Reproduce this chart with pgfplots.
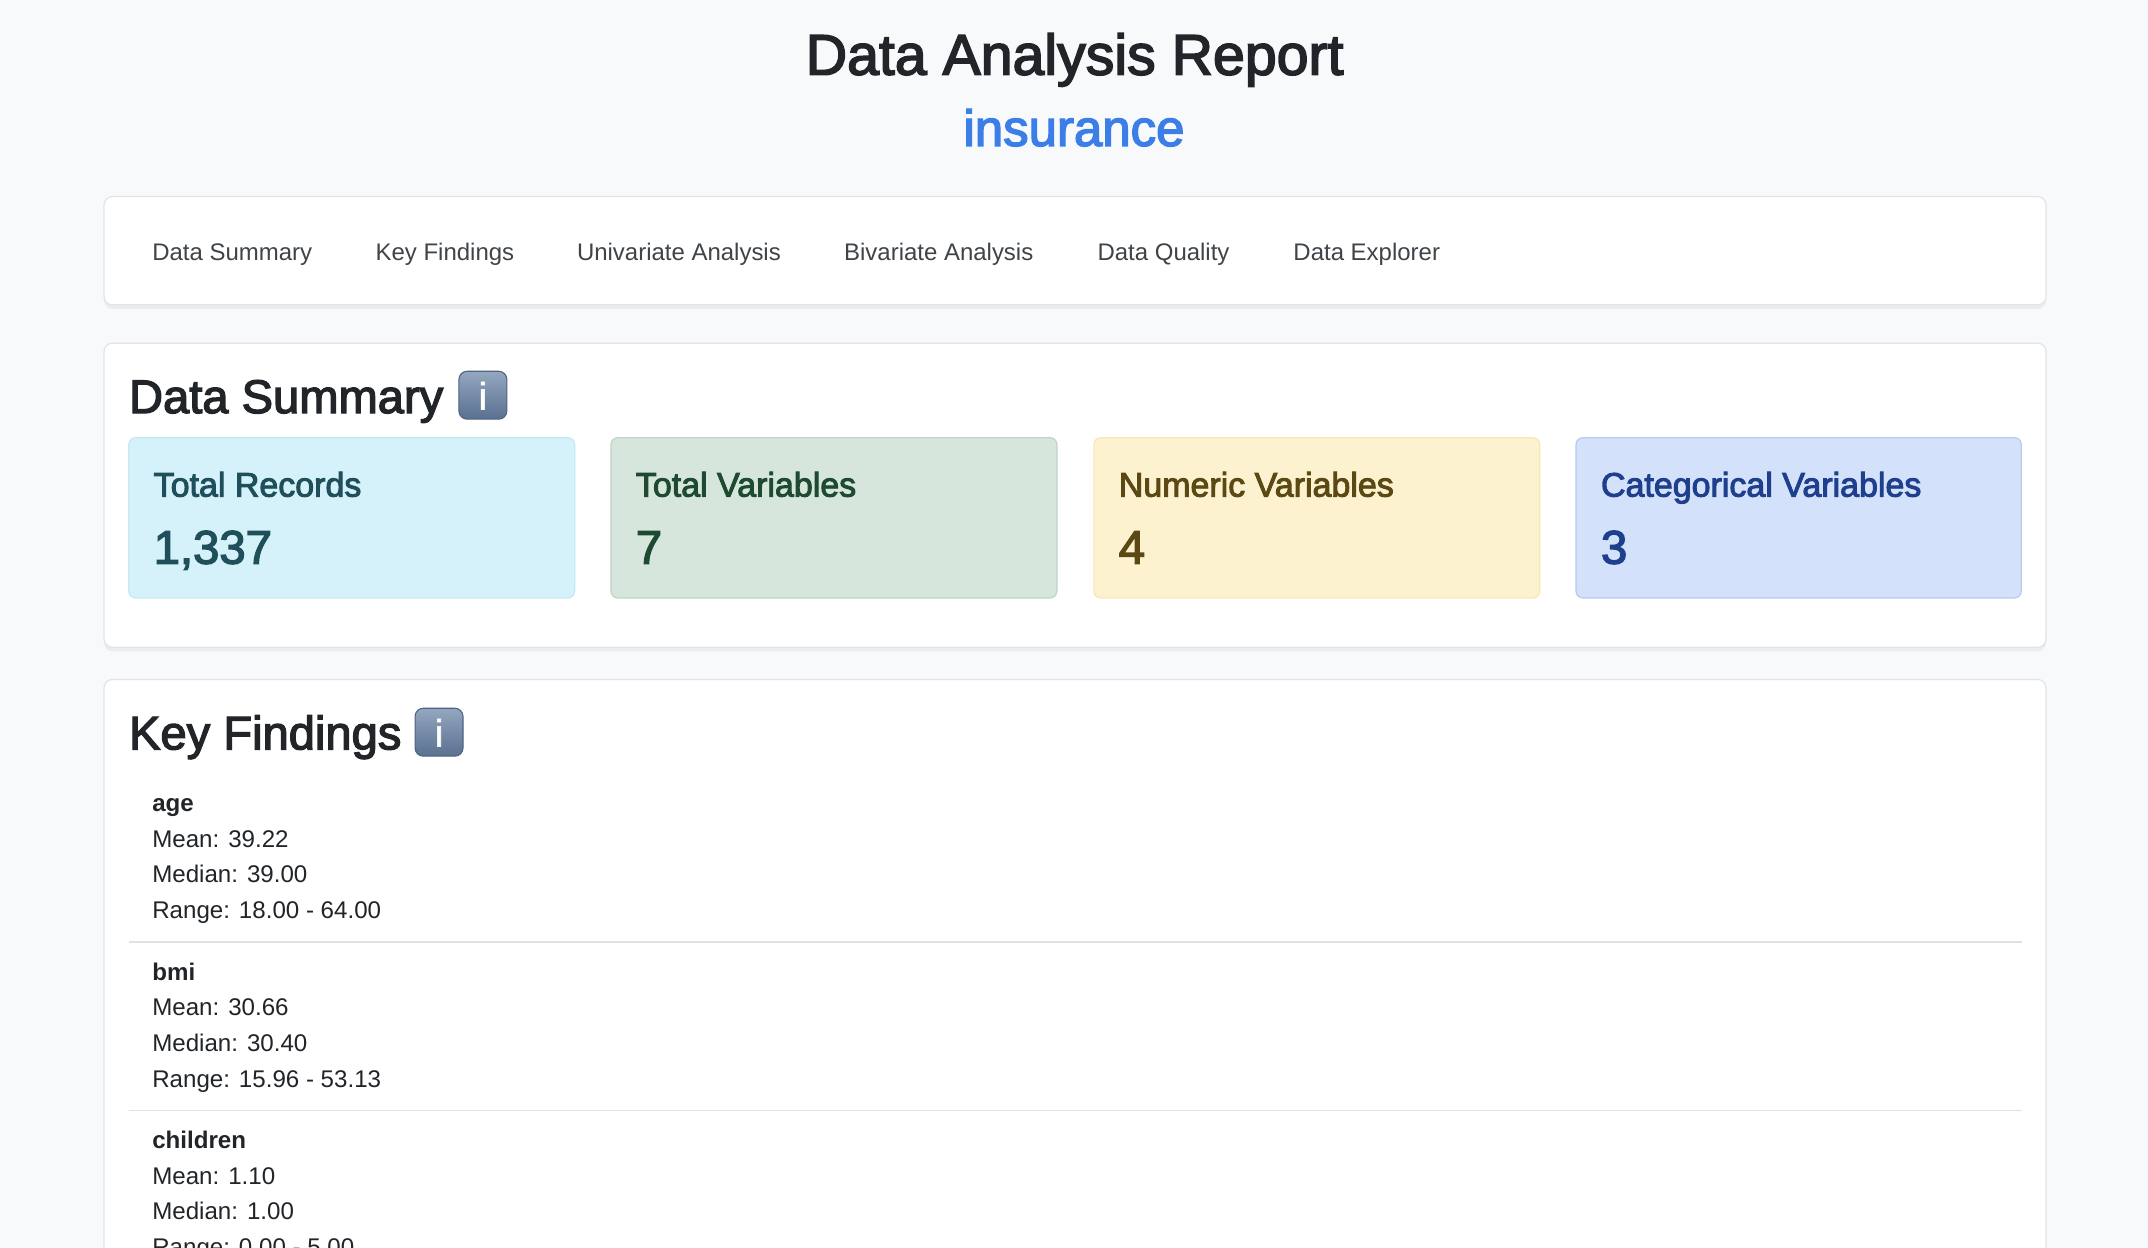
\documentclass[border=0pt]{standalone}
\usepackage{fontspec}
\setmainfont{Liberation Sans}
\newfontfamily\medfont[FakeBold=2.8]{Liberation Sans}
\newfontfamily\lightmed[FakeBold=1.5]{Liberation Sans}
\usepackage{pgfplots}
\pgfplotsset{compat=1.18}
\definecolor{pagebg}{HTML}{F8F9FA}
\definecolor{dark}{HTML}{212529}
\definecolor{navtxt}{HTML}{3F4449}
\definecolor{panelline}{HTML}{E1E4E8}
\definecolor{sepline}{HTML}{DEE2E6}
\definecolor{subtitle}{HTML}{3B7EE8}
\definecolor{cAfill}{HTML}{D5F1F9}\definecolor{cAline}{HTML}{C6EAF3}\definecolor{cAtxt}{HTML}{1F4F5B}
\definecolor{cBfill}{HTML}{D6E6DD}\definecolor{cBline}{HTML}{BDD6C8}\definecolor{cBtxt}{HTML}{1D4A30}
\definecolor{cCfill}{HTML}{FDF2D0}\definecolor{cCline}{HTML}{F8E7B6}\definecolor{cCtxt}{HTML}{5B4813}
\definecolor{cDfill}{HTML}{D4E1FA}\definecolor{cDline}{HTML}{B5CBF0}\definecolor{cDtxt}{HTML}{1E3F8C}
\definecolor{icontop}{HTML}{93A7C0}
\definecolor{iconbot}{HTML}{5A7090}
\definecolor{iconline}{HTML}{4E6482}
\newcommand{\fs}[1]{\fontsize{#1pt}{#1pt}\selectfont}
\newcommand{\panel}[4]{%
  \fill[black,opacity=0.05,rounded corners=6pt] (axis cs:#1,#2+2) rectangle (axis cs:#3,#4+3);
  \filldraw[fill=white,draw=panelline,line width=0.9pt,rounded corners=6pt] (axis cs:#1,#2) rectangle (axis cs:#3,#4);}
\newcommand{\statcard}[6]{% x1, x2, fill, line, text colour, label
  \filldraw[fill=#3,draw=#4,line width=0.9pt,rounded corners=5pt] (axis cs:#1,319.5) rectangle (axis cs:#2,436.5);
  \node[anchor=base west,inner sep=0,text=#5] at (axis cs:#1+18,362.5) {\medfont\fs{24.8}#6};}
\newcommand{\statval}[3]{\node[anchor=base west,inner sep=0,text=#2] at (axis cs:#1+18,411.5) {\medfont\fs{34.5}#3};}
\newcommand{\infoicon}[2]{% left x, top y
  \shade[rounded corners=6pt,top color=icontop,bottom color=iconbot] (axis cs:#1,#2) rectangle (axis cs:#1+35,#2+35);
  \draw[iconline,line width=0.8pt,rounded corners=6pt] (axis cs:#1,#2) rectangle (axis cs:#1+35,#2+35);
  \node[anchor=base,inner sep=0,text=white] at (axis cs:#1+17.5,#2+28) {\lightmed\fs{28}i};}
\newcommand{\navitem}[2]{\node[anchor=base west,inner sep=0,text=navtxt] at (axis cs:#1,190) {\fs{17.5}#2};}
\newcommand{\findline}[3]{\node[anchor=base west,inner sep=0,text=dark] at (axis cs:111,#1) {\fs{17.6}#2#3};}
\begin{document}
\begin{tikzpicture}
\begin{axis}[width=1568pt,height=911pt,scale only axis,
  xmin=0,xmax=1568,ymin=0,ymax=911,y dir=reverse,
  axis lines=none,ticks=none,clip=true]
\fill[pagebg] (axis cs:0,0) rectangle (axis cs:1568,911);
% header
\node[anchor=base,inner sep=0,text=dark] at (axis cs:784.5,54.5) {\medfont\fs{41.8}Data Analysis Report};
\node[anchor=base,inner sep=0,text=subtitle] at (axis cs:784,106.5) {\medfont\fs{37.2}insurance};
% nav panel
\panel{76}{143.5}{1493.5}{222.5}
\navitem{111}{Data Summary}
\navitem{274}{Key Findings}
\navitem{421}{Univariate Analysis}
\navitem{616}{Bivariate Analysis}
\navitem{801}{Data Quality}
\navitem{944}{Data Explorer}
% data summary panel
\panel{76}{250.5}{1493.5}{472.5}
\node[anchor=base west,inner sep=0,text=dark] at (axis cs:94,301.5) {\medfont\fs{34.4}Data Summary};
\infoicon{335}{271}
\statcard{94}{419.5}{cAfill}{cAline}{cAtxt}{Total Records}
\statval{94}{cAtxt}{1,337}
\statcard{446}{771.5}{cBfill}{cBline}{cBtxt}{Total Variables}
\statval{446}{cBtxt}{7}
\statcard{798.5}{1124}{cCfill}{cCline}{cCtxt}{Numeric Variables}
\statval{798.5}{cCtxt}{4}
\statcard{1150.5}{1475.5}{cDfill}{cDline}{cDtxt}{Categorical Variables}
\statval{1150.5}{cDtxt}{3}
% key findings panel
\panel{76}{496}{1493.5}{960}
\node[anchor=base west,inner sep=0,text=dark] at (axis cs:94,547) {\medfont\fs{34.4}Key Findings};
\infoicon{303}{517}
\draw[sepline,line width=1pt] (axis cs:94,687.5) -- (axis cs:1476,687.5);
\draw[sepline,line width=1pt] (axis cs:94,810.5) -- (axis cs:1476,810.5);
% age
\findline{592.5}{\bfseries}{age}
\findline{618.5}{}{Mean: 39.22}
\findline{644.5}{}{Median: 39.00}
\findline{670.5}{}{Range: 18.00 - 64.00}
% bmi
\findline{715.5}{\bfseries}{bmi}
\findline{741.5}{}{Mean: 30.66}
\findline{767.5}{}{Median: 30.40}
\findline{793.5}{}{Range: 15.96 - 53.13}
% children
\findline{838.5}{\bfseries}{children}
\findline{864.5}{}{Mean: 1.10}
\findline{890.5}{}{Median: 1.00}
\findline{916.5}{}{Range: 0.00 - 5.00}
\end{axis}
\pgfresetboundingbox
\useasboundingbox (current axis.south west) rectangle (current axis.north east);
\end{tikzpicture}
\end{document}
